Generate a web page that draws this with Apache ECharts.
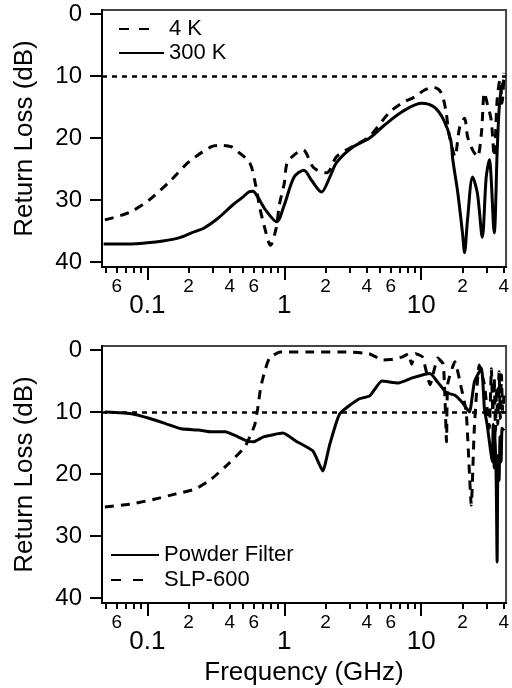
<!DOCTYPE html>
<html>
<head>
<meta charset="utf-8">
<script src="https://cdn.jsdelivr.net/npm/echarts@6/dist/echarts.min.js"></script>
<style>
html, body { margin: 0; padding: 0; background: #fff; }
#chart { width: 512px; height: 688px; }
</style>
</head>
<body>
<div id="chart"></div>
<script>
// top panel: 4 K and 300 K (frequency in GHz, return loss in dB)
const freq4K = [0.049, 0.074, 0.103, 0.149, 0.2, 0.294, 0.347, 0.409, 0.459, 0.56, 0.618, 0.661, 0.718, 0.793, 0.875, 0.92, 1.0, 1.05, 1.2, 1.37, 1.64, 2.04, 2.41, 3.13, 4.16, 5.79, 7.18, 8.91, 10.5, 12.2, 13.9, 15.1, 15.9, 17.0, 17.6, 19.1, 20.7, 21.8, 23.7, 25.7, 27.5, 28.9, 30.3, 32.4, 34.1, 35.8, 37.6, 38.9, 40.2];
const loss4K = [33.2, 32, 30, 26.8, 23.9, 21.4, 21.2, 21.4, 22.2, 24, 27.6, 31.1, 34.4, 37.3, 34.4, 30.8, 27.3, 24, 22.6, 21.9, 24.8, 25.6, 23, 21.4, 19.8, 16, 14.4, 13.4, 12.3, 11.8, 12.6, 15.5, 19.2, 22, 23, 18.2, 16.8, 19.8, 21.9, 23, 19.2, 12.7, 14.4, 17.1, 23, 13.9, 10.6, 14.4, 9.5];

const freq300K = [0.048, 0.074, 0.1, 0.13, 0.17, 0.21, 0.26, 0.33, 0.42, 0.5, 0.55, 0.59, 0.64, 0.73, 0.88, 1.0, 1.18, 1.39, 1.58, 1.87, 2.15, 2.4, 3.1, 4.2, 5.4, 7.2, 10, 12.4, 14.6, 16.4, 17.0, 18.5, 20.0, 20.7, 21.8, 23.7, 25.7, 27.9, 29.8, 31.4, 34.1, 35.8, 37.0, 38.3, 40.2];
const loss300K = [37.1, 37.1, 36.9, 36.6, 36.1, 35.3, 34.5, 32.9, 30.8, 29.5, 28.7, 28.6, 29.5, 31.6, 33.5, 30.8, 26.3, 25.2, 26.8, 28.7, 26.3, 24, 21.6, 20, 17.9, 15.8, 14.4, 15, 17.1, 20.3, 23.5, 28.9, 35.3, 38.5, 33, 26.3, 28.9, 36, 26.3, 23.5, 35.3, 22.4, 15.5, 12.3, 10.6];

// bottom panel: Powder Filter and SLP-600
const freqPowder = [0.049, 0.078, 0.103, 0.137, 0.176, 0.237, 0.294, 0.37, 0.459, 0.541, 0.598, 0.705, 0.977, 1.22, 1.62, 1.91, 2.15, 2.54, 3.5, 4.2, 5.16, 6.8, 8.6, 11.6, 13.2, 15.3, 17.6, 20.0, 22.5, 24.4, 27.5, 28.9, 30.3, 33.0, 33.5, 34.1, 34.6, 35.3, 35.8, 36.3, 37.0, 37.6, 38.3, 38.9, 40.2];
const lossPowder = [10, 10.3, 11, 11.9, 12.7, 12.9, 13.2, 13.2, 14, 14.7, 14.8, 14, 13.4, 14.7, 16.3, 19.5, 15.2, 10.3, 7.9, 7.4, 5, 5.3, 4.5, 3.8, 5.2, 6.9, 7.3, 8.5, 10, 5.2, 2.9, 9.4, 12.1, 18, 12, 19, 13, 22, 34.2, 17, 21, 14, 18, 12.6, 13];

const freqSLP = [0.049, 0.078, 0.116, 0.162, 0.225, 0.294, 0.389, 0.516, 0.608, 0.64, 0.672, 0.718, 0.78, 0.935, 1.64, 2.84, 4.16, 5.24, 6.2, 7.31, 8.07, 8.5, 9.05, 10.2, 11.6, 13.2, 14.5, 15.3, 15.6, 17.6, 19.6, 21.3, 23.2, 24.4, 26.5, 28.9, 31.4, 32.5, 33.3, 34.1, 34.8, 35.5, 36.2, 37.0, 37.8, 38.5, 39.3, 40.2];
const lossSLP = [25.3, 24.8, 24, 23.2, 22.4, 20.8, 18.4, 15.6, 12.1, 9.4, 6.1, 3.5, 1.3, 0.3, 0.3, 0.3, 0.6, 1.6, 1.5, 1.1, 0.6, 2.3, 0.6, 1.1, 5.6, 1.3, 2.3, 14.8, 5.5, 1.9, 6.1, 10, 25, 12.6, 2.4, 5.6, 12.6, 3, 10, 4.5, 13, 6, 12, 3.5, 11, 4, 10, 7.3];

// axis ticks and labels
const yTicks = [0, 10, 20, 30, 40];
const minorTickFreqs = [0.05, 0.06, 0.07, 0.08, 0.09, 0.2, 0.3, 0.4, 0.5, 0.6, 0.7, 0.8, 0.9, 2, 3, 4, 5, 6, 7, 8, 9, 20, 30, 40];
const minorLabelFreqs = [0.06, 0.2, 0.4, 0.6, 2, 4, 6, 20, 40];
const majorFreqs = [0.1, 1, 10];
const majorLabels = ['0.1', '1', '10'];
const refLevel = 10;

const X_MIN = 0.0467, X_MAX = 41.6;
const Y_MIN = -0.65, Y_MAX = 40.8;
const FONT = 'Liberation Sans, Arial, sans-serif';

let chart = echarts.init(document.getElementById('chart'), null, { renderer: 'canvas' });

let zip = (fs, ls) => fs.map((f, i) => [f, ls[i]]);

let line = (name, fs, ls, g, dashed, smooth) => ({
    name: name,
    type: 'line',
    xAxisIndex: g * 3,
    yAxisIndex: g,
    data: zip(fs, ls),
    symbol: 'none',
    smooth: smooth,
    lineStyle: { color: '#000', width: 3, type: dashed ? [9, 7] : 'solid' },
    itemStyle: { color: '#000' },
    z: dashed ? 3 : 4
});

let refLine = {
    silent: true,
    symbol: 'none',
    label: { show: false },
    lineStyle: { color: '#000', width: 2.5, type: [5, 5] },
    data: [{ yAxis: refLevel }]
};

let minorFmt = v => {
    let e = Math.floor(v + 1e-9);
    return String(Math.round(Math.pow(10, v) / Math.pow(10, e)));
};
let majorFmt = v => {
    let i = majorFreqs.findIndex(f => Math.abs(Math.log10(f) - v) < 1e-3);
    return i < 0 ? '' : majorLabels[i];
};

let xAxes = g => [
    {
        gridIndex: g, type: 'log', logBase: 10, min: X_MIN, max: X_MAX, position: 'bottom',
        axisLine: { onZero: false, lineStyle: { color: '#000', width: 2 } },
        axisTick: { show: false }, axisLabel: { show: false },
        splitLine: { show: false }, minorTick: { show: false }
    },
    {
        gridIndex: g, type: 'value', position: 'bottom',
        min: Math.log10(X_MIN), max: Math.log10(X_MAX),
        axisLine: { show: false, onZero: false },
        axisTick: { show: true, customValues: minorTickFreqs.map(f => Math.log10(f)), length: 6, lineStyle: { color: '#000', width: 2 } },
        axisLabel: { customValues: minorLabelFreqs.map(f => Math.log10(f)), formatter: minorFmt, fontSize: 19, margin: 10, color: '#000', fontFamily: FONT },
        splitLine: { show: false }
    },
    {
        gridIndex: g, type: 'value', position: 'bottom',
        min: Math.log10(X_MIN), max: Math.log10(X_MAX),
        axisLine: { show: false, onZero: false },
        axisTick: { show: true, customValues: majorFreqs.map(f => Math.log10(f)), length: 13, lineStyle: { color: '#000', width: 2 } },
        axisLabel: { customValues: majorFreqs.map(f => Math.log10(f)), formatter: majorFmt, fontSize: 26, margin: 26, color: '#000', fontFamily: FONT },
        splitLine: { show: false },
        name: g === 1 ? 'Frequency (GHz)' : '',
        nameLocation: 'middle', nameGap: 57,
        nameTextStyle: { fontSize: 26, color: '#000', fontFamily: FONT }
    }
];

let yAxis = g => ({
    gridIndex: g, type: 'value', inverse: true, min: Y_MIN, max: Y_MAX, position: 'left',
    axisLine: { show: true, onZero: false, lineStyle: { color: '#000', width: 2 } },
    axisTick: { show: true, customValues: yTicks, length: 12, lineStyle: { color: '#000', width: 2 } },
    axisLabel: { customValues: yTicks, fontSize: 24, margin: 20, color: '#000', fontFamily: FONT },
    splitLine: { show: false },
    name: 'Return Loss (dB)', nameLocation: 'middle', nameGap: 64, nameRotate: 90,
    nameTextStyle: { fontSize: 26, color: '#000', fontFamily: FONT }
});

let legendBase = {
    orient: 'vertical', selectedMode: false, padding: 0,
    itemHeight: 14,
    itemStyle: { opacity: 0 },
    textStyle: { fontSize: 22, color: '#000', fontFamily: FONT }
};

let s4K = line('4 K', freq4K, loss4K, 0, true, 0.3);
s4K.markLine = refLine;
let sPowder = line('Powder Filter', freqPowder, lossPowder, 1, false, 0.15);
sPowder.markLine = refLine;

let option = {
    animation: false,
    backgroundColor: '#fff',
    textStyle: { fontFamily: FONT },
    grid: [
        { left: 102, right: 0, top: 10, height: 257, show: true, borderColor: '#444', borderWidth: 2 },
        { left: 102, right: 0, top: 346, height: 257, show: true, borderColor: '#444', borderWidth: 2 }
    ],
    legend: [
        Object.assign({}, legendBase, {
            data: [{ name: '4 K', lineStyle: { type: [10, 10, 10, 60] } }, '300 K'],
            left: 118, top: 18, itemWidth: 45, itemGap: 2
        }),
        Object.assign({}, legendBase, {
            data: ['Powder Filter', { name: 'SLP-600', lineStyle: { type: [10, 12, 10, 60] } }],
            left: 110, top: 544, itemWidth: 48, itemGap: 3
        })
    ],
    xAxis: xAxes(0).concat(xAxes(1)),
    yAxis: [yAxis(0), yAxis(1)],
    series: [
        s4K,
        line('300 K', freq300K, loss300K, 0, false, 0.3),
        sPowder,
        line('SLP-600', freqSLP, lossSLP, 1, true, 0.15)
    ]
};

chart.setOption(option);
</script>
</body>
</html>
